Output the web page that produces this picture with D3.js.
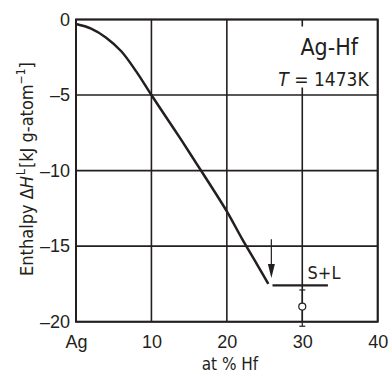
<!DOCTYPE html>
<html>
<head>
<meta charset="utf-8">
<script src="https://cdn.jsdelivr.net/npm/d3@7"></script>
<style>
  body { margin: 0; background: #fff; }
  svg { display: block; font-family: "Liberation Sans Narrow", "DejaVu Sans Condensed", sans-serif; }
</style>
</head>
<body>
<div id="chart"></div>
<script>
// enthalpy of mixing curve, at % Hf vs kJ g-atom^-1
const atPct = [0, 2, 4, 6, 8, 10, 12, 14, 16, 18, 20, 22, 24, 25.5];
const enthalpy = [-0.3, -0.6, -1.2, -2.1, -3.45, -5.0, -6.5, -8.0, -9.55, -11.1, -12.7, -14.5, -16.2, -17.5];

const xTicks = [0, 10, 20, 30, 40];
const xTickLabels = ['Ag', '10', '20', '30', '40'];
const yTicks = [0, -5, -10, -15, -20];

// S+L two-phase level and measured point
const slLevel = [26.05, 33.4, -17.6];
const arrowPt = [25.9, -14.55, -17.1];
const errPt = {x: 30, y: -19.0, lo: -20.3, hi: -17.9};

const width = 390, height = 374;
const margin = {top: 19.5, right: 12.3, bottom: 52.3, left: 76};
const w = width - margin.left - margin.right;
const h = height - margin.top - margin.bottom;
const ink = '#231f20';

const svg = d3.select('#chart').append('svg')
  .attr('width', width)
  .attr('height', height);

const g = svg.append('g')
  .attr('transform', 'translate(' + margin.left + ',' + margin.top + ')');

const x = d3.scaleLinear().domain([0, 40]).range([0, w]);
const y = d3.scaleLinear().domain([-20, 0]).range([h, 0]);

// grid
g.append('g').selectAll('line')
  .data(xTicks)
  .enter().append('line')
    .attr('x1', d => x(d)).attr('x2', d => x(d))
    .attr('y1', 0).attr('y2', h)
    .attr('stroke', ink).attr('stroke-width', 1.6);

g.append('g').selectAll('line')
  .data(yTicks)
  .enter().append('line')
    .attr('x1', 0).attr('x2', w)
    .attr('y1', d => y(d)).attr('y2', d => y(d))
    .attr('stroke', ink).attr('stroke-width', 1.6);

// frame
g.append('rect')
  .attr('width', w).attr('height', h)
  .attr('fill', 'none')
  .attr('stroke', ink).attr('stroke-width', 2);

// tick labels
const xAxis = d3.axisBottom(x).tickValues(xTicks)
  .tickFormat((d, i) => xTickLabels[i]).tickSize(0).tickPadding(14);
g.append('g')
  .attr('transform', 'translate(0,' + h + ')')
  .call(xAxis)
  .call(a => a.select('.domain').remove())
  .selectAll('text')
    .attr('font-size', 18).attr('fill', ink)
    .attr('font-family', null);

const yAxis = d3.axisLeft(y).tickValues(yTicks)
  .tickFormat(d => d === 0 ? '0' : '\u2013' + Math.abs(d)).tickSize(0).tickPadding(6);
g.append('g')
  .call(yAxis)
  .call(a => a.select('.domain').remove())
  .selectAll('text')
    .attr('font-size', 18).attr('fill', ink)
    .attr('font-family', null);

// axis titles
svg.append('text')
  .attr('x', 230).attr('y', 370)
  .attr('text-anchor', 'middle')
  .attr('font-size', 17).attr('fill', ink)
  .text('at % Hf');

const yl = svg.append('text')
  .attr('transform', 'translate(33,169) rotate(-90)')
  .attr('text-anchor', 'middle')
  .attr('font-size', 18).attr('fill', ink);
yl.append('tspan').text('Enthalpy \u0394');
yl.append('tspan').attr('font-style', 'italic').text('H');
yl.append('tspan').attr('font-size', 12).attr('dy', -8).attr('dx', 1).text('L');
yl.append('tspan').attr('dy', 8).attr('dx', 1).text('[kJ g-atom');
yl.append('tspan').attr('font-size', 12).attr('dy', -8).text('\u22121');
yl.append('tspan').attr('dy', 8).text(']');

// label box
g.append('rect')
  .attr('x', x(27.9)).attr('y', 7)
  .attr('width', x(39.4) - x(27.9)).attr('height', 61)
  .attr('fill', '#fff');

g.append('text')
  .attr('x', x(37.4)).attr('y', 35.5)
  .attr('text-anchor', 'end')
  .attr('font-size', 23).attr('fill', ink)
  .text('Ag-Hf');

const tl = g.append('text')
  .attr('x', x(38.8)).attr('y', 66.5)
  .attr('text-anchor', 'end')
  .attr('font-size', 19).attr('fill', ink);
tl.append('tspan').attr('font-style', 'italic').text('T');
tl.append('tspan').text(' = 1473K');

// curve
const line = d3.line()
  .x((d, i) => x(atPct[i]))
  .y(d => y(d))
  .curve(d3.curveCatmullRom);

g.append('path')
  .attr('d', line(enthalpy))
  .attr('fill', 'none')
  .attr('stroke', ink)
  .attr('stroke-width', 2.5);

// S+L level
g.append('line')
  .attr('x1', x(slLevel[0])).attr('x2', x(slLevel[1]))
  .attr('y1', y(slLevel[2])).attr('y2', y(slLevel[2]))
  .attr('stroke', ink).attr('stroke-width', 2.2);

g.append('text')
  .attr('x', x(30.7)).attr('y', y(-17.2))
  .attr('font-size', 18).attr('fill', ink)
  .text('S+L');

// arrow
g.append('line')
  .attr('x1', x(arrowPt[0])).attr('x2', x(arrowPt[0]))
  .attr('y1', y(arrowPt[1])).attr('y2', y(arrowPt[2]) - 10)
  .attr('stroke', ink).attr('stroke-width', 1.2);

const ax = x(arrowPt[0]), ay = y(arrowPt[2]);
g.append('path')
  .attr('d', 'M' + (ax - 3.5) + ',' + (ay - 14) + 'L' + (ax + 3.5) + ',' + (ay - 14) + 'L' + ax + ',' + ay + 'Z')
  .attr('fill', ink);

// error bar with open circle
const ex = x(errPt.x);
const eg = g.append('g').attr('stroke', ink).attr('stroke-width', 1.2);
eg.append('line')
  .attr('x1', ex).attr('x2', ex)
  .attr('y1', y(errPt.hi)).attr('y2', y(errPt.lo));
eg.selectAll('.cap')
  .data([errPt.hi, errPt.lo])
  .enter().append('line')
    .attr('class', 'cap')
    .attr('x1', ex - 3).attr('x2', ex + 3)
    .attr('y1', d => y(d)).attr('y2', d => y(d));
eg.append('circle')
  .attr('cx', ex).attr('cy', y(errPt.y))
  .attr('r', 3.5)
  .attr('fill', '#fff');
</script>
</body>
</html>
